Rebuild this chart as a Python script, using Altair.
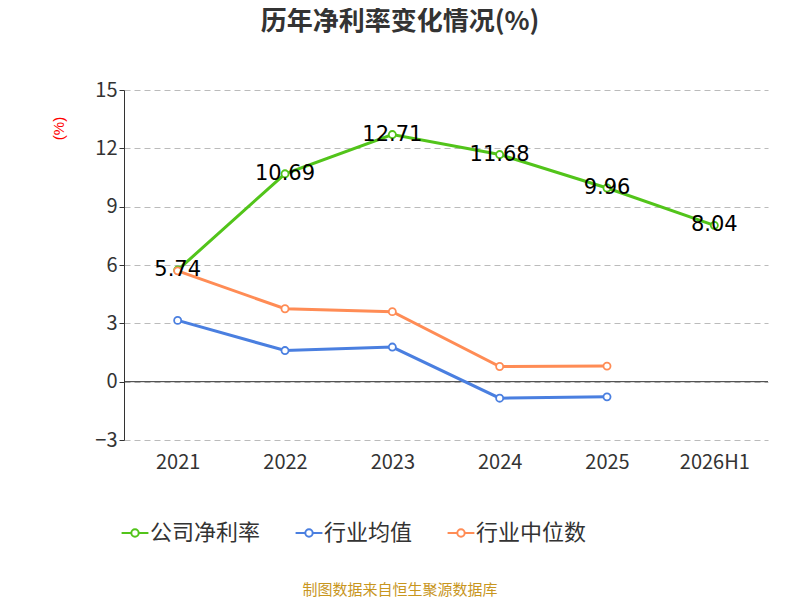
import altair as alt
import pandas as pd

years = ["2021", "2022", "2023", "2024", "2025", "2026H1"]
company = [5.74, 10.69, 12.71, 11.68, 9.96, 8.04]
ind_mean = [3.15, 1.60, 1.78, -0.85, -0.78]
ind_median = [5.70, 3.75, 3.60, 0.78, 0.80]
series = ["公司净利率", "行业均值", "行业中位数"]
colors = ["#52c41a", "#4a7fe0", "#ff8c55"]

rows = []
for y, v in zip(years, company):
    rows.append({"year": y, "v": v, "s": series[0]})
for y, v in zip(years, ind_mean):
    rows.append({"year": y, "v": v, "s": series[1]})
for y, v in zip(years, ind_median):
    rows.append({"year": y, "v": v, "s": series[2]})
df = pd.DataFrame(rows)

FONT = "Noto Sans CJK SC"
sym = "M-2,0L-0.55,0M0.55,0L2,0M-0.55,0A0.55,0.55 0 1,1 0.55,0A0.55,0.55 0 1,1 -0.55,0"

x = alt.X("year:N", sort=years, title=None,
          axis=alt.Axis(labelAngle=0, labelFontSize=20, labelColor="#333", labelPadding=12,
                        domain=False, ticks=False, labelFont=FONT),
          scale=alt.Scale(paddingOuter=0.5))
y = alt.Y("v:Q", title="(%)",
          scale=alt.Scale(domain=[-3, 15], nice=False),
          axis=alt.Axis(values=[-3, 0, 3, 6, 9, 12, 15], labelFontSize=20, labelColor="#333",
                        labelFont=FONT, gridDash=[6, 4], gridColor="#bbb", domainColor="#333",
                        tickColor="#333", titleColor="red", titleFontSize=15, titleFontWeight="normal",
                        titleAngle=-90, titleX=-58, titleY=38))
color = alt.Color("s:N", scale=alt.Scale(domain=series, range=colors), title=None,
                  legend=alt.Legend(orient="none", legendX=0, legendY=432, direction="horizontal",
                                    symbolType=sym, symbolSize=180, symbolStrokeWidth=2,
                                    labelFontSize=22, labelFont=FONT, labelColor="#333",
                                    columnPadding=30))

base = alt.Chart(df).encode(x=x, y=y, color=color)
lines = base.mark_line(strokeWidth=3)
pts = base.mark_point(filled=False, fill="white", fillOpacity=1, size=50, strokeWidth=1.8, opacity=1)
labels = alt.Chart(df[df.s == series[0]]).mark_text(fontSize=21, color="black", font="DejaVu Sans").encode(
    x=alt.X("year:N", sort=years), y="v:Q", text=alt.Text("v:Q", format=".2f"))
zero = alt.Chart(pd.DataFrame({"z": [0]})).mark_rule(color="#333").encode(y="z:Q")

title = alt.Chart(pd.DataFrame({"t": ["历年净利率变化情况(%)"]})).mark_text(
    fontSize=26, fontWeight="bold", font=FONT, color="#333").encode(
    text="t:N", x=alt.value(276), y=alt.value(-68))
src = alt.Chart(pd.DataFrame({"t": ["制图数据来自恒生聚源数据库"]})).mark_text(
    fontSize=15, font=FONT, color="#c8961e").encode(
    text="t:N", x=alt.value(276), y=alt.value(500))

chart = alt.layer(zero, lines, pts, labels, title, src).properties(
    width=644, height=350, autosize=alt.AutoSizeParams(type="none"),
    padding={"left": 116, "top": 82, "right": 24, "bottom": 160},
).configure_view(stroke=None).configure_legend(offset=0)
chart.save("out.html", embed_options={"renderer": "svg", "actions": False})
